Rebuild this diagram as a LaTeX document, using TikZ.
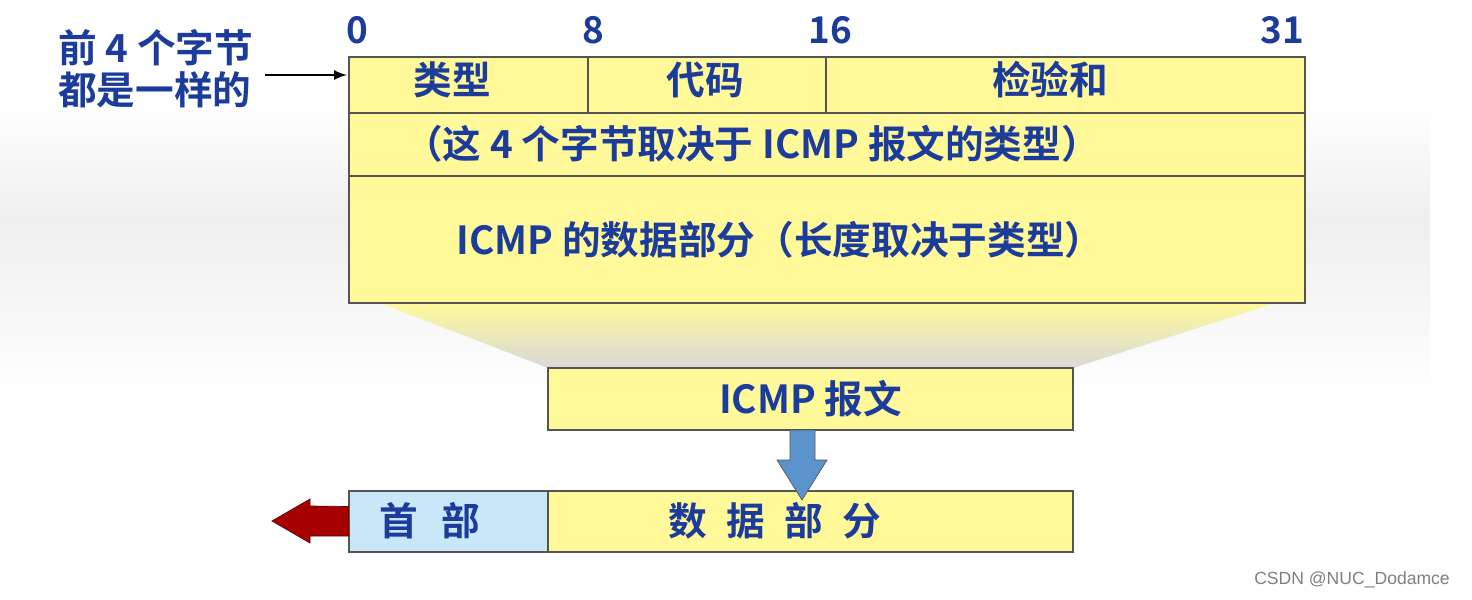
\documentclass[tikz,border=0pt]{standalone}
\usepackage{fontspec}
\setmainfont{Noto Sans CJK SC}[BoldFont={Noto Sans CJK SC Bold}]
\newfontfamily\wm{Liberation Sans}
\definecolor{yel}{HTML}{FFF99A}
\definecolor{ltb}{HTML}{C8E8FA}
\definecolor{txt}{HTML}{1C3C9C}
\definecolor{bord}{HTML}{555555}
\definecolor{bg}{HTML}{EFEFEF}
\definecolor{arrb}{HTML}{5B93CC}
\tikzset{cell/.style={draw=bord,line width=0.8pt,fill=yel},
 lab/.style={text=txt,font=\bfseries\fontsize{22}{26}\selectfont},
 num/.style={text=txt,font=\bfseries\fontsize{21}{24}\selectfont}}
\begin{document}
\begin{tikzpicture}[x=0.02cm,y=-0.02cm]
\useasboundingbox (0,0) rectangle (1472,599);
\fill[white] (0,0) rectangle (1472,599);
\shade[top color=white,bottom color=bg] (0,100) rectangle (1430,220);
\shade[top color=bg,bottom color=white] (0,220) rectangle (1430,400);
% funnel
\shade[top color=yel,bottom color=bg!80!gray] (380,303) -- (1275,303) -- (1073,368) -- (548,368) -- cycle;
% top box
\draw[cell] (349,57) rectangle (1305,303);
\draw[bord,line width=0.8pt] (349,113) -- (1305,113) (349,176) -- (1305,176) (588,57) -- (588,113) (826,57) -- (826,113);
\node[lab] (t1) at (452,80) {类型};
\node[lab] (t2) at (705,80) {代码};
\node[lab] (t3) at (1050,80) {检验和};
\node[lab] (r2) at (752,144) {（这 4 个字节取决于 ICMP 报文的类型）};
\node[lab] (r3) at (780,240) {ICMP 的数据部分（长度取决于类型）};
\node[num] (n0) at (357,30) {0};
\node[num] (n8) at (593,30) {8};
\node[num] (n16) at (830,30) {16};
\node[num] (n31) at (1282,30) {31};
\node[lab,align=left,anchor=west] (left) at (52,69) {前 4 个字节\\[-2pt]都是一样的};
\coordinate (as) at (265,75);
\coordinate (ae) at (347,75);
\draw[-latex,line width=1.5pt] (as) -- (ae);
% ICMP box
\node[cell,minimum width=525*0.02cm,minimum height=62*0.02cm,lab] (icmp) at (810.5,399) {ICMP 报文};
% bottom
\node[cell,fill=ltb,minimum width=199*0.02cm,minimum height=61*0.02cm] (hdr) at (448.5,521.5) {};
\node[cell,minimum width=525*0.02cm,minimum height=61*0.02cm] (data) at (810.5,521.5) {};
\node[lab] (hdrt) at (430,521) {首\hspace{0.6em}部};
\node[lab] (datat) at (775,521) {数\hspace{0.5em}据\hspace{0.5em}部\hspace{0.5em}分};
% down arrow
\draw[draw=bord,fill=arrb] (790,430) -- (815,430) -- (815,460) -- (827,460) -- (802,500) -- (777,460) -- (790,460) -- cycle;
% red arrow
\draw[draw=red!40!black,fill=red!65!black] (hdr.west) ++(0,-15) -- (310,506) -- (310,499) -- (272,521) -- (310,543) -- (310,536) -- (349,536) -- cycle;
\node[text=gray,font=\wm\fontsize{10}{12}\selectfont,anchor=east] (wm) at (1456,580) {CSDN @NUC\_Dodamce};
\end{tikzpicture}
\end{document}
